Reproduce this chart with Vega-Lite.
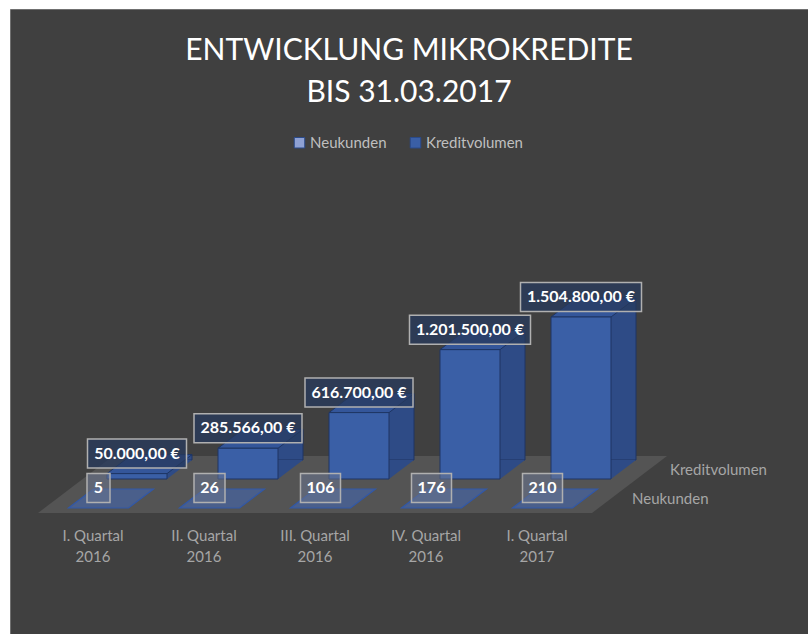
{
  "$schema": "https://vega.github.io/schema/vega-lite/v6.json",
  "width": 798,
  "height": 625,
  "padding": {"left": 10, "top": 9, "right": 0, "bottom": 0},
  "autosize": {"type": "none"},
  "background": "#ffffff",
  "title": {
    "text": ["ENTWICKLUNG MIKROKREDITE", "BIS 31.03.2017"],
    "anchor": "middle",
    "frame": "group",
    "orient": "top",
    "baseline": "top",
    "offset": -99,
    "font": "Lato",
    "fontSize": 30,
    "fontWeight": "normal",
    "color": "#ffffff",
    "lineHeight": 42
  },
  "data": {
    "values": [
      {"quartal": "I. Quartal 2016", "serie": "Neukunden", "wert": 5},
      {"quartal": "II. Quartal 2016", "serie": "Neukunden", "wert": 26},
      {"quartal": "III. Quartal 2016", "serie": "Neukunden", "wert": 106},
      {"quartal": "IV. Quartal 2016", "serie": "Neukunden", "wert": 176},
      {"quartal": "I. Quartal 2017", "serie": "Neukunden", "wert": 210},
      {"quartal": "I. Quartal 2016", "serie": "Kreditvolumen", "wert": 50000},
      {"quartal": "II. Quartal 2016", "serie": "Kreditvolumen", "wert": 285566},
      {"quartal": "III. Quartal 2016", "serie": "Kreditvolumen", "wert": 616700},
      {"quartal": "IV. Quartal 2016", "serie": "Kreditvolumen", "wert": 1201500},
      {"quartal": "I. Quartal 2017", "serie": "Kreditvolumen", "wert": 1504800}
    ]
  },
  "transform": [
    {"calculate": "length(toString(datum.wert))", "as": "stellen"},
    {"calculate": "{'1': 11.5, '2': 15.5, '3': 20, '5': 49.5, '6': 54, '7': 60.5}[toString(datum.stellen)]", "as": "halbbreite"},
    {"calculate": "'M-' + datum.halbbreite + ',-14.5H' + datum.halbbreite + 'V14.5H-' + datum.halbbreite + 'Z'", "as": "kasten"}
  ],
  "encoding": {
    "x": {
      "field": "quartal",
      "type": "nominal",
      "scale": {
        "domain": ["I. Quartal 2016", "II. Quartal 2016", "III. Quartal 2016", "IV. Quartal 2016", "I. Quartal 2017"],
        "range": [71.5, 626.5],
        "paddingInner": 0,
        "paddingOuter": 0
      },
      "axis": {
        "title": null,
        "orient": "bottom",
        "domain": false,
        "ticks": false,
        "grid": false,
        "labelAngle": 0,
        "labelColor": "#a6a6a6",
        "labelFont": "Lato",
        "labelFontSize": 15,
        "labelLineHeight": 21,
        "labelBaseline": "top",
        "labelPadding": 0,
        "labelOffset": -44,
        "offset": -106,
        "labelExpr": "[slice(datum.label, 0, -5), slice(datum.label, -4)]"
      }
    },
    "y": {
      "field": "wert",
      "type": "quantitative",
      "scale": {"domain": [0, 1504800], "range": [470, 308], "nice": false, "zero": true},
      "axis": null
    }
  },
  "layer": [
    {
      "transform": [{"filter": "datum.quartal == 'III. Quartal 2016' && datum.serie == 'Kreditvolumen'"}],
      "mark": {"type": "point", "filled": true, "opacity": 1, "size": 4, "shape": "M-321,34L233,34L308,-23L-246,-23Z", "fill": "#545454", "strokeWidth": 0},
      "encoding": {"y": {"datum": 0, "type": "quantitative"}}
    },
    {
      "transform": [{"filter": "datum.serie == 'Neukunden'"}],
      "mark": {"type": "point", "filled": true, "opacity": 1, "size": 4, "shape": "M-30,0L30,0L55,-19L-5,-19Z", "fill": "#4468b0", "fillOpacity": 0.6, "stroke": "#3158a8", "strokeWidth": 1.2, "xOffset": -38.5, "yOffset": 29}
    },
    {
      "transform": [{"filter": "datum.serie == 'Kreditvolumen'"}],
      "mark": {"type": "bar", "width": 60, "opacity": 1, "fill": "#2e4b86", "stroke": "#1e3563", "strokeWidth": 1, "xOffset": 25, "x2Offset": 25, "yOffset": -19, "y2Offset": -19}
    },
    {
      "transform": [{"filter": "datum.serie == 'Kreditvolumen'"}],
      "mark": {"type": "point", "filled": true, "opacity": 1, "size": 4, "shape": "M30,0L30,-19L55,-19Z", "fill": "#2e4b86", "strokeWidth": 0},
      "encoding": {"y": {"datum": 0, "type": "quantitative"}}
    },
    {
      "transform": [{"filter": "datum.serie == 'Kreditvolumen'"}],
      "mark": {"type": "point", "filled": true, "opacity": 1, "size": 4, "shape": "M-30,0L30,0L55,-19L-5,-19Z", "fill": "#34569a", "stroke": "#1e3563", "strokeWidth": 1}
    },
    {
      "transform": [{"filter": "datum.serie == 'Kreditvolumen'"}],
      "mark": {"type": "bar", "width": 60, "opacity": 1, "stroke": "#1e3563", "strokeWidth": 1},
      "encoding": {
        "color": {
          "field": "serie",
          "type": "nominal",
          "scale": {"domain": ["Neukunden", "Kreditvolumen"], "range": ["#8ea1d4", "#3a5fa6"]},
          "legend": {
            "orient": "none",
            "legendX": 282,
            "legendY": 126,
            "direction": "horizontal",
            "title": null,
            "symbolType": "square",
            "symbolSize": 110,
            "symbolStrokeWidth": 1,
            "symbolStrokeColor": "#2a4a8a",
            "labelColor": "#bfbfbf",
            "labelFont": "Lato",
            "labelFontSize": 15,
            "labelOffset": 3,
            "columnPadding": 21,
            "padding": 0
          }
        }
      }
    },
    {
      "transform": [{"filter": "datum.serie == 'Kreditvolumen'"}],
      "mark": {"type": "point", "filled": true, "opacity": 1, "size": 4, "fill": "#27395c", "fillOpacity": 0.75, "stroke": "#b0b0b0", "strokeWidth": 1.5, "yOffset": -20},
      "encoding": {
        "shape": {"field": "kasten", "type": "nominal", "scale": null, "legend": null}
      }
    },
    {
      "transform": [{"filter": "datum.serie == 'Kreditvolumen'"}],
      "mark": {"type": "text", "font": "Lato", "fontSize": 16, "fontWeight": "bold", "color": "#ffffff", "baseline": "middle", "align": "center", "yOffset": -20},
      "encoding": {"text": {"field": "wert", "type": "quantitative", "format": "$,.2f"}}
    },
    {
      "transform": [{"filter": "datum.serie == 'Neukunden'"}],
      "mark": {"type": "point", "filled": true, "opacity": 1, "size": 4, "fill": "#6a7590", "fillOpacity": 0.55, "stroke": "#b0b0b0", "strokeWidth": 1.5, "xOffset": -38.5, "yOffset": 9},
      "encoding": {
        "shape": {"field": "kasten", "type": "nominal", "scale": null, "legend": null}
      }
    },
    {
      "transform": [{"filter": "datum.serie == 'Neukunden'"}],
      "mark": {"type": "text", "font": "Lato", "fontSize": 16, "fontWeight": "bold", "color": "#ffffff", "baseline": "middle", "align": "center", "xOffset": -38.5, "yOffset": 9},
      "encoding": {"text": {"field": "wert", "type": "quantitative", "format": "d"}}
    },
    {
      "transform": [{"filter": "datum.quartal == 'I. Quartal 2017' && datum.serie == 'Kreditvolumen'"}],
      "mark": {"type": "text", "font": "Lato", "fontSize": 15, "color": "#a6a6a6", "baseline": "middle", "align": "left", "xOffset": 89, "yOffset": -9},
      "encoding": {"text": {"field": "serie", "type": "nominal"}, "y": {"datum": 0, "type": "quantitative"}}
    },
    {
      "transform": [{"filter": "datum.quartal == 'I. Quartal 2017' && datum.serie == 'Neukunden'"}],
      "mark": {"type": "text", "font": "Lato", "fontSize": 15, "color": "#a6a6a6", "baseline": "middle", "align": "left", "xOffset": 51, "yOffset": 20},
      "encoding": {"text": {"field": "serie", "type": "nominal"}, "y": {"datum": 0, "type": "quantitative"}}
    }
  ],
  "config": {
    "view": {"fill": "#404040", "stroke": "#707070", "strokeWidth": 1},
    "locale": {
      "number": {"decimal": ",", "thousands": ".", "grouping": [3], "currency": ["", " €"]}
    }
  }
}
